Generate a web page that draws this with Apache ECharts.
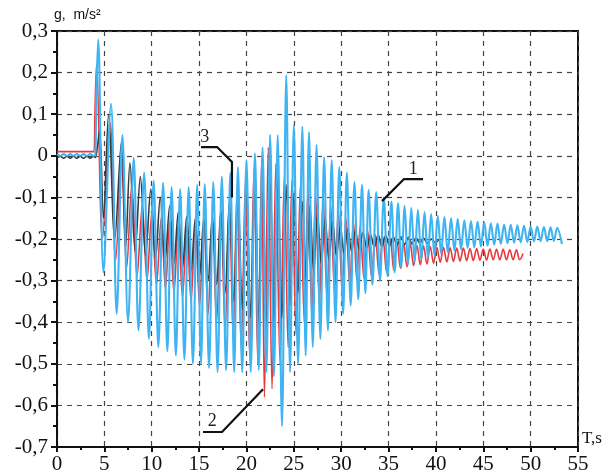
<!DOCTYPE html>
<html>
<head>
<meta charset="utf-8">
<script src="https://cdn.jsdelivr.net/npm/echarts@6.0.0/dist/echarts.min.js"></script>
<style>html,body{margin:0;padding:0;background:#fff}#c{width:606px;height:476px}</style>
</head>
<body>
<div id="c"></div>
<script>
// x ticks (s) and y ticks (m/s^2)
const xTicks = [0,5,10,15,20,25,30,35,40,45,50,55];
const yTicks = [-0.7,-0.6,-0.5,-0.4,-0.3,-0.2,-0.1,0,0.1,0.2,0.3];

// Series 1 (blue) – [time s, g m/s^2] read at peaks/troughs
const series1 = [[0,0.004],[0.35,0],[0.7,0.004],[1.05,0],[1.4,0.004],[1.75,0],[2.1,0.004],[2.45,0],[2.8,0.004],[3.15,0],[3.5,0.004],[3.85,0],[4.05,0.003],[4.15,0.15],[4.35,0.28],
[4.9,-0.28],[5.7,0.125],[6.3,-0.38],[6.9,0.05],[7.5,-0.40],[8.1,-0.005],[8.6,-0.42],[9.2,-0.04],[9.7,-0.44],[10.2,-0.06],[10.7,-0.46],[11.2,-0.065],[11.65,-0.47],[12.1,-0.075],[12.55,-0.48],[13.0,-0.08],[13.45,-0.49],[13.9,-0.075],[14.35,-0.5],[14.8,-0.07],[15.2,-0.5],[15.6,-0.068],[16.05,-0.51],[16.5,-0.063],[16.95,-0.52],[17.4,-0.05],[17.85,-0.515],[18.3,-0.04],[18.7,-0.52],[19.1,-0.027],[19.55,-0.52],[20.0,-0.01],[20.45,-0.52],[20.9,0.006],[21.3,-0.515],[21.7,0.02],[22.1,-0.52],[22.5,0.05],[22.9,-0.53],[23.3,0.05],[23.75,-0.65],[24.2,0.194],[24.6,-0.52],[25.0,0.074],[25.45,-0.5],[25.9,0.07],[26.25,-0.48],[26.6,0.057],[27.0,-0.46],[27.4,0.026],[27.8,-0.44],[28.2,-0.003],[28.6,-0.42],[29.0,-0.01],[29.4,-0.4],[29.8,-0.027],[30.2,-0.38],[30.6,-0.041],[31.0,-0.36],[31.4,-0.063],[31.8,-0.345],[32.2,-0.07],[32.55,-0.33],[32.9,-0.082],[33.3,-0.31],[33.7,-0.087],[34.1,-0.3],[34.5,-0.1],[34.9,-0.29],[35.3,-0.11],[35.65,-0.28],[36.0,-0.114],[36.35,-0.27],[36.7,-0.12],[37.05,-0.262],[37.4,-0.125],[37.75,-0.255],[38.1,-0.13],[38.45,-0.25],[38.8,-0.135],[39.15,-0.245],[39.5,-0.14],[39.85,-0.24],[40.2,-0.145],[40.55,-0.235],[40.9,-0.147],[41.25,-0.232],[41.6,-0.15],[41.95,-0.228],[42.3,-0.152],[42.65,-0.225],[43.0,-0.155],[43.35,-0.222],[43.7,-0.157],[44.05,-0.22],[44.4,-0.158],[44.75,-0.218],[45.1,-0.16],[45.45,-0.216],[45.8,-0.162],[46.15,-0.214],[46.5,-0.163],[46.85,-0.212],[47.2,-0.165],[47.55,-0.21],[47.9,-0.166],[48.25,-0.209],[48.6,-0.167],[48.95,-0.208],[49.3,-0.168],[49.65,-0.207],[50.0,-0.17],[50.35,-0.206],[50.7,-0.17],[51.05,-0.205],[51.4,-0.171],[51.75,-0.205],[52.1,-0.172],[52.45,-0.205],[52.8,-0.173],[53.3,-0.212]];

// Series 2 (red)
const series2 = [[0,0.01],[3.9,0.01],[4.0,0.1],[4.18,0.22],[4.8,-0.2],[5.6,0.08],[6.2,-0.25],[6.8,-0.02],[7.35,-0.27],[7.9,-0.07],[8.45,-0.29],[9.0,-0.12],[9.5,-0.3],[10.0,-0.14],[10.5,-0.31],[11.0,-0.15],[11.45,-0.32],[11.9,-0.16],[12.35,-0.33],[12.8,-0.165],[13.25,-0.34],[13.7,-0.17],[14.15,-0.35],[14.6,-0.165],[15.05,-0.36],[15.5,-0.16],[15.95,-0.38],[16.4,-0.15],[16.85,-0.4],[17.3,-0.13],[17.75,-0.42],[18.2,-0.11],[18.6,-0.44],[19.0,-0.09],[19.45,-0.46],[19.9,-0.06],[20.35,-0.48],[20.8,-0.03],[21.2,-0.5],[21.6,-0.01],[21.9,-0.58],[22.3,0.02],[22.7,-0.56],[23.1,-0.02],[23.55,-0.5],[24.0,-0.05],[24.4,-0.46],[24.8,-0.06],[25.25,-0.43],[25.7,-0.07],[26.1,-0.4],[26.5,-0.08],[26.9,-0.38],[27.3,-0.09],[27.7,-0.36],[28.1,-0.1],[28.5,-0.34],[28.9,-0.12],[29.3,-0.33],[29.7,-0.13],[30.1,-0.32],[30.5,-0.15],[30.9,-0.31],[31.3,-0.16],[31.65,-0.3],[32.0,-0.17],[32.4,-0.295],[32.8,-0.18],[33.2,-0.29],[33.6,-0.19],[34.0,-0.285],[34.4,-0.195],[34.8,-0.28],[35.2,-0.2],[35.55,-0.275],[35.9,-0.205],[36.25,-0.27],[36.6,-0.21],[36.95,-0.267],[37.3,-0.212],[37.65,-0.264],[38.0,-0.215],[38.35,-0.262],[38.7,-0.217],[39.05,-0.26],[39.4,-0.218],[39.75,-0.258],[40.1,-0.22],[40.45,-0.256],[40.8,-0.22],[41.15,-0.255],[41.5,-0.221],[41.85,-0.254],[42.2,-0.222],[42.55,-0.253],[42.9,-0.222],[43.25,-0.252],[43.6,-0.223],[43.95,-0.252],[44.3,-0.223],[44.65,-0.251],[45.0,-0.224],[45.35,-0.251],[45.7,-0.224],[46.05,-0.25],[46.4,-0.225],[46.75,-0.25],[47.1,-0.225],[47.45,-0.25],[47.8,-0.226],[48.15,-0.25],[48.5,-0.226],[48.85,-0.25],[49.2,-0.235]];

// Series 3 (dark)
const series3 = [[0,-0.006],[0.35,-0.001],[0.7,-0.006],[1.05,-0.001],[1.4,-0.006],[1.75,-0.001],[2.1,-0.006],[2.45,-0.001],[2.8,-0.006],[3.15,-0.001],[3.5,-0.006],[3.85,-0.001],[4.05,-0.004],[4.25,0.02],[4.5,0.06],[4.9,-0.15],[5.45,0.1],[6.1,-0.2],[6.8,0.033],[7.25,-0.22],[7.7,-0.017],[8.25,-0.23],[8.8,-0.05],[9.35,-0.24],[9.9,-0.08],[10.4,-0.25],[10.9,-0.1],[11.4,-0.255],[11.9,-0.12],[12.35,-0.26],[12.8,-0.135],[13.25,-0.27],[13.7,-0.145],[14.15,-0.28],[14.6,-0.15],[15.05,-0.29],[15.5,-0.15],[15.95,-0.3],[16.4,-0.145],[16.85,-0.31],[17.3,-0.13],[17.75,-0.33],[18.2,-0.11],[18.65,-0.35],[19.1,-0.09],[19.55,-0.37],[20.0,-0.07],[20.45,-0.39],[20.9,-0.06],[21.3,-0.41],[21.7,-0.05],[22.1,-0.42],[22.5,-0.05],[22.9,-0.41],[23.3,-0.05],[23.75,-0.39],[24.2,-0.07],[24.6,-0.36],[25.0,-0.09],[25.45,-0.33],[25.9,-0.11],[26.3,-0.3],[26.7,-0.12],[27.1,-0.28],[27.5,-0.14],[27.9,-0.26],[28.3,-0.15],[28.7,-0.25],[29.1,-0.16],[29.5,-0.24],[29.9,-0.17],[30.3,-0.235],[30.7,-0.175],[31.1,-0.23],[31.5,-0.18],[31.9,-0.225],[32.3,-0.185],[32.7,-0.222],[33.1,-0.19],[33.5,-0.22],[33.9,-0.19],[34.3,-0.218],[34.7,-0.192],[35.1,-0.216],[35.5,-0.195],[35.9,-0.215],[36.3,-0.195],[36.7,-0.213],[37.1,-0.196],[37.5,-0.212],[37.9,-0.197],[38.3,-0.21],[38.7,-0.198],[39.1,-0.21],[39.5,-0.2],[39.9,-0.208],[40.3,-0.203]];

// Callout labels in data coordinates
const callouts = [
  {text:'1', at:[37.6,-0.032], path:[[38.64,-0.056],[36.63,-0.056],[34.31,-0.109]]},
  {text:'2', at:[16.4,-0.638], path:[[15.41,-0.664],[17.42,-0.664],[21.75,-0.561]]},
  {text:'3', at:[15.6,0.045], path:[[15.2,0.021],[16.9,0.021],[18.47,-0.015],[18.47,-0.1]]}
];

const serif = 'Liberation Serif, Times New Roman, serif';
const chart = echarts.init(document.getElementById('c'));
const fmtY = v => { const r = Math.round(v*10)/10; return r === 0 ? '0' : r.toFixed(1).replace('.', ','); };

chart.setOption({
  animation: false,
  backgroundColor: '#fff',
  grid: {left: 57, right: 28, top: 31, bottom: 29, show: true, borderColor: '#111', borderWidth: 2, backgroundColor: 'transparent'},
  xAxis: {
    type: 'value', min: xTicks[0], max: xTicks[xTicks.length-1], interval: 5,
    name: 'T,s', nameLocation: 'end', nameGap: 4,
    nameTextStyle: {fontFamily: serif, fontSize: 17, color: '#111', verticalAlign: 'bottom', padding: [0,0,0,0]},
    axisLine: {onZero: false, lineStyle: {color: '#111', width: 2}},
    axisTick: {show: true, inside: false, length: 5, lineStyle: {color: '#111', width: 2}},
    minorTick: {show: true, splitNumber: 2, length: 3, lineStyle: {color: '#111', width: 2}},
    axisLabel: {fontFamily: serif, fontSize: 21, color: '#111', margin: 7},
    splitLine: {show: true, lineStyle: {color: '#444', width: 1.2, type: [5,5]}}
  },
  yAxis: {
    type: 'value', min: yTicks[0], max: yTicks[yTicks.length-1], interval: 0.1,
    name: 'g,  m/s\u00b2', nameLocation: 'end', nameGap: 9,
    nameTextStyle: {fontFamily: 'Liberation Sans, Arial, sans-serif', fontSize: 14, color: '#111', align: 'left', padding: [0,0,0,-3]},
    axisLine: {lineStyle: {color: '#111', width: 2}},
    axisTick: {show: true, inside: false, length: 6, lineStyle: {color: '#111', width: 2}},
    minorTick: {show: true, splitNumber: 2, length: 4, lineStyle: {color: '#111', width: 2}},
    axisLabel: {fontFamily: serif, fontSize: 21, color: '#111', margin: 9, formatter: fmtY},
    splitLine: {show: true, lineStyle: {color: '#444', width: 1.2, type: [5,5]}}
  },
  series: [
    {name: '2', type: 'line', data: series2, showSymbol: false, smooth: 0.35, lineStyle: {color: '#e8393c', width: 1.6}, z: 2},
    {name: '3', type: 'line', data: series3, showSymbol: false, smooth: 0.35, lineStyle: {color: '#3a3a3a', width: 1.6}, z: 3},
    {name: '1', type: 'line', data: series1, showSymbol: false, smooth: 0.35, lineStyle: {color: '#40b4f3', width: 2.1}, z: 4}
  ]
});

const px = p => chart.convertToPixel({gridIndex: 0}, p);
const graphics = [];
callouts.forEach(c => {
  graphics.push({type: 'polyline', z: 100, shape: {points: c.path.map(px)}, style: {stroke: '#111', lineWidth: 2.2, fill: null}});
  const p = px(c.at);
  graphics.push({type: 'text', z: 101, x: p[0], y: p[1], style: {text: c.text, font: '18px ' + serif, fill: '#222', align: 'center', verticalAlign: 'middle'}});
});
chart.setOption({graphic: graphics});
</script>
</body>
</html>
